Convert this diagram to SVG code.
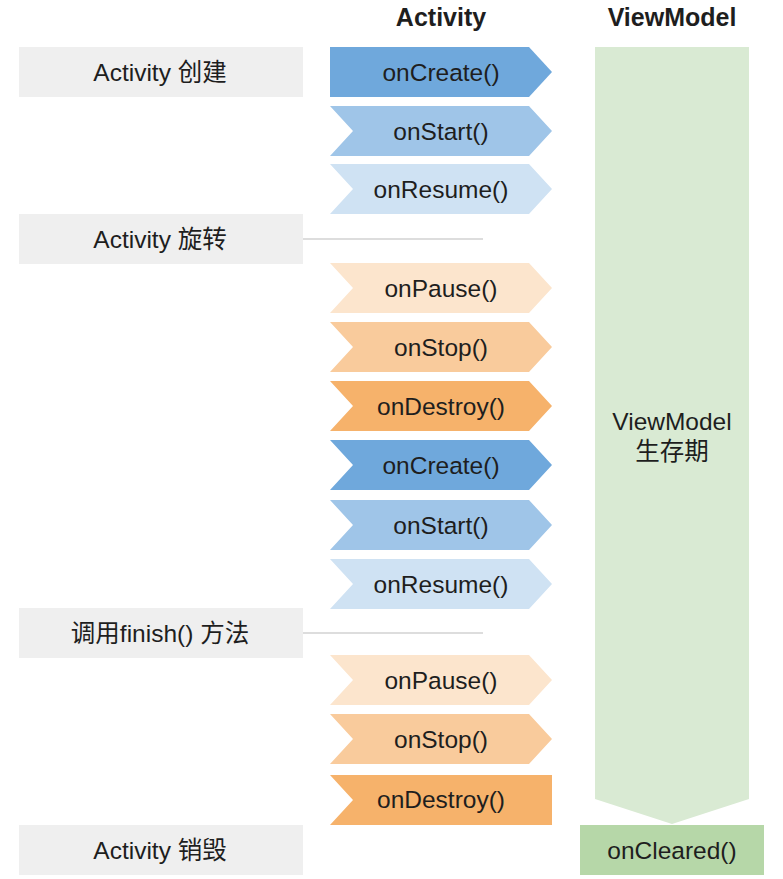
<svg xmlns="http://www.w3.org/2000/svg" width="783" height="879" viewBox="0 0 783 879">
<style>
text{font-family:"Liberation Sans",Arial,"Noto Sans CJK SC",sans-serif;fill:#1e1e1e;text-anchor:middle;dominant-baseline:central}
.h{font-size:25px;font-weight:bold}
.t{font-size:24.5px}
.g{fill:#efefef}
.c1{fill:#6fa8dc}.c2{fill:#9fc5e8}.c3{fill:#cfe2f3}
.p1{fill:#fce5cd}.p2{fill:#f9cb9c}.p3{fill:#f6b26b}
.conn{stroke:#dddddd;stroke-width:2;fill:none}
</style>
<text class="h" x="441" y="17">Activity</text>
<text class="h" x="672" y="17">ViewModel</text>

<g id="vm">
<polygon points="595,47 749,47 749,799 672,824 595,799" fill="#d9ead3"/>
<text class="t" x="672" y="421">ViewModel</text>
<text class="t" x="672" y="451">生存期</text>
</g>
<g id="oncleared">
<rect x="580" y="825" width="184" height="50" fill="#b6d7a8"/>
<text class="t" x="672" y="850">onCleared()</text>
</g>

<g id="connectors">
<line class="conn" x1="303" y1="239" x2="483" y2="239"/>
<line class="conn" x1="303" y1="633" x2="483" y2="633"/>
</g>

<g id="l1"><rect class="g" x="19" y="47" width="284" height="50"/><text class="t" x="160" y="72">Activity 创建</text></g>
<g id="l2"><rect class="g" x="19" y="214" width="284" height="50"/><text class="t" x="160" y="239">Activity 旋转</text></g>
<g id="l3"><rect class="g" x="19" y="608" width="284" height="50"/><text class="t" x="160" y="633">调用finish() 方法</text></g>
<g id="l4"><rect class="g" x="19" y="825" width="284" height="50"/><text class="t" x="160" y="850">Activity 销毁</text></g>

<g id="a1"><polygon class="c1" points="330,47 529,47 552,72 529,97 330,97"/><text class="t" x="441" y="72">onCreate()</text></g>
<g id="a2"><polygon class="c2" points="330,106 529,106 552,131 529,156 330,156 353,131"/><text class="t" x="441" y="131">onStart()</text></g>
<g id="a3"><polygon class="c3" points="330,164 529,164 552,189 529,214 330,214 353,189"/><text class="t" x="441" y="189">onResume()</text></g>

<g id="a4"><polygon class="p1" points="330,263 529,263 552,288 529,313 330,313 353,288"/><text class="t" x="441" y="288">onPause()</text></g>
<g id="a5"><polygon class="p2" points="330,322 529,322 552,347 529,372 330,372 353,347"/><text class="t" x="441" y="347">onStop()</text></g>
<g id="a6"><polygon class="p3" points="330,381 529,381 552,406 529,431 330,431 353,406"/><text class="t" x="441" y="406">onDestroy()</text></g>
<g id="a7"><polygon class="c1" points="330,440 529,440 552,465 529,490 330,490 353,465"/><text class="t" x="441" y="465">onCreate()</text></g>
<g id="a8"><polygon class="c2" points="330,500 529,500 552,525 529,550 330,550 353,525"/><text class="t" x="441" y="525">onStart()</text></g>
<g id="a9"><polygon class="c3" points="330,559 529,559 552,584 529,609 330,609 353,584"/><text class="t" x="441" y="584">onResume()</text></g>

<g id="a10"><polygon class="p1" points="330,655 529,655 552,680 529,705 330,705 353,680"/><text class="t" x="441" y="680">onPause()</text></g>
<g id="a11"><polygon class="p2" points="330,714 529,714 552,739 529,764 330,764 353,739"/><text class="t" x="441" y="739">onStop()</text></g>
<g id="a12"><polygon class="p3" points="330,775 552,775 552,825 330,825 353,800"/><text class="t" x="441" y="799">onDestroy()</text></g>
</svg>
